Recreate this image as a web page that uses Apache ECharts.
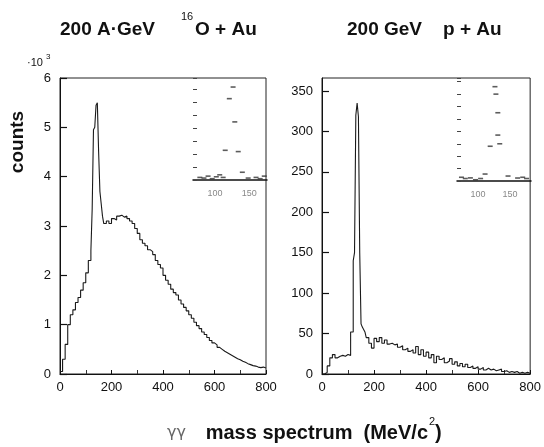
<!DOCTYPE html>
<html>
<head>
<meta charset="utf-8">
<script src="https://cdn.jsdelivr.net/npm/echarts@6/dist/echarts.min.js"></script>
<style>html,body{margin:0;padding:0;background:#fff}#c{width:544px;height:447px}</style>
</head>
<body>
<div id="c"></div>
<script>
// Bin lower edges (MeV/c^2); last bin ends at 800
const binEdges = [0,10,20,30,40,50,60,70,80,90,100,110,
  120,125,130,135,140,145,150,155,160,165,
  170,180,190,200,210,220,230,240,250,260,270,280,290,300,310,320,330,340,350,360,370,380,390,
  400,410,420,430,440,450,460,470,480,490,500,510,520,530,540,550,560,570,580,590,600,
  610,620,630,640,650,660,670,680,690,700,710,720,730,740,750,760,770,780,790];
const binEnd = 800;
// 200 A GeV 16O + Au, counts in units of 10^3
const countsOAu = [0.05,0.3,0.6,1.0,1.2,1.3,1.45,1.55,1.7,1.85,2.05,2.3,
  2.5,3.35,4.95,5.0,5.45,5.5,4.5,3.7,3.45,3.2,
  3.05,3.1,3.05,3.15,3.12,3.2,3.22,3.18,3.2,3.15,3.1,3.05,2.95,2.85,2.72,2.65,2.6,2.52,2.48,2.42,2.3,2.22,2.15,
  2.0,1.9,1.82,1.72,1.65,1.6,1.5,1.42,1.35,1.28,1.2,1.13,1.05,0.98,0.92,0.85,0.8,0.74,0.68,0.63,0.59,
  0.54,0.5,0.46,0.43,0.4,0.37,0.34,0.31,0.29,0.26,0.24,0.21,0.19,0.17,0.16,0.14,0.13,0.14,0.12];
// 200 GeV p + Au, counts
const countsPAu = [0,2,10,20,24,20,22,23,22,24,23,52,
  140,150,320,335,318,150,62,58,55,52,
  45,38,32,44,40,45,38,42,37,38,36,37,33,35,30,32,28,30,26,34,24,30,22,
  27,20,24,14,22,18,20,14,16,19,12,15,10,13,9,12,8,10,7,9,6,
  8,5,7,5,6,4,5,6,3,4,2,3,2,3,1,2,1,2,1];
// Insets (peak region, arbitrary units)
const insetOAuMass = [107,115,121,126.5,129,134,140,148.5,78,84,90,96,102,112,160,166,172];
const insetOAuVal  = [0.4,2.3,6.3,7.2,4.5,2.2,0.6,0.15,0.2,0.15,0.3,0.1,0.25,0.2,0.2,0.1,0.3];
const insetPAuMass = [111,119,126.5,128,131,131,134,147,162,74,80,88,96,104,170,176];
const insetPAuVal  = [0.56,2.8,7.6,7.0,5.5,3.7,3.0,0.4,0.24,0.3,0.2,0.25,0.1,0.2,0.3,0.2];
const insetTickLabels = [100,150];

function stepPoints(edges, vals, end){
  const pts=[];
  for(let i=0;i<vals.length;i++){
    const lo=edges[i], hi=(i+1<edges.length)?edges[i+1]:end;
    pts.push([lo,vals[i]]); pts.push([hi,vals[i]]);
  }
  return pts;
}
const FF='Liberation Sans';
const lab={color:'#111',fontFamily:FF,fontSize:13};
const chart=echarts.init(document.getElementById('c'),null,{renderer:'canvas'});
function mainX(idx){
  return {type:'value',gridIndex:idx,min:0,max:800,interval:200,
    axisLine:{show:true,lineStyle:{color:'#111',width:1.2}},
    axisTick:{show:true,inside:true,length:4,lineStyle:{color:'#111'}},
    minorTick:{show:true,splitNumber:2,length:4,lineStyle:{color:'#333'}},
    axisLabel:Object.assign({margin:7},lab),splitLine:{show:false}};
}
function insetX(idx,mn,mx){
  return {type:'value',gridIndex:idx,min:mn,max:mx,
    axisLine:{show:true,lineStyle:{color:'#111',width:1.5}},
    axisTick:{show:false},
    axisLabel:{customValues:insetTickLabels,color:'#888',fontFamily:FF,fontSize:9,margin:9},splitLine:{show:false}};
}
function insetY(idx,mx){
  return {type:'value',gridIndex:idx,min:0,max:mx,interval:1,
    axisLine:{show:false},
    axisTick:{show:true,inside:true,length:4,lineStyle:{color:'#444'}},
    axisLabel:{show:false},splitLine:{show:false}};
}
chart.setOption({
  animation:false,
  grid:[
    {left:60,top:78,width:206,height:296,show:true,borderColor:'#222',borderWidth:1},
    {left:322,top:78,width:209,height:296,show:true,borderColor:'#222',borderWidth:1},
    {left:193,top:78,width:74,height:102,show:false},
    {left:457,top:78,width:74,height:103,show:false}
  ],
  xAxis:[ mainX(0), mainX(1), insetX(2,68,176), insetX(3,67,183) ],
  yAxis:[
    {type:'value',gridIndex:0,min:0,max:6,interval:1,
      axisLine:{show:true,lineStyle:{color:'#111',width:1}},
      axisTick:{show:true,inside:true,length:7,lineStyle:{color:'#111',width:1.2}},
      axisLabel:Object.assign({margin:9},lab),splitLine:{show:false}},
    {type:'value',gridIndex:1,min:0,max:366,interval:50,
      axisLine:{show:true,lineStyle:{color:'#111',width:1}},
      axisTick:{show:true,inside:true,length:7,lineStyle:{color:'#111',width:1.2}},
      axisLabel:Object.assign({margin:9,showMaxLabel:false},lab),splitLine:{show:false}},
    insetY(2,7.9), insetY(3,8.3)
  ],
  series:[
    {type:'line',xAxisIndex:0,yAxisIndex:0,data:stepPoints(binEdges,countsOAu,binEnd),
      showSymbol:false,lineStyle:{color:'#1a1a1a',width:1.1}},
    {type:'line',xAxisIndex:1,yAxisIndex:1,data:stepPoints(binEdges,countsPAu,binEnd),
      showSymbol:false,lineStyle:{color:'#1a1a1a',width:1.1}},
    {type:'scatter',xAxisIndex:2,yAxisIndex:2,symbol:'rect',symbolSize:[5,1.6],
      itemStyle:{color:'#333'},data:insetOAuMass.map((m,i)=>[m,insetOAuVal[i]])},
    {type:'scatter',xAxisIndex:3,yAxisIndex:3,symbol:'rect',symbolSize:[5,1.6],
      itemStyle:{color:'#333'},data:insetPAuMass.map((m,i)=>[m,insetPAuVal[i]])}
  ],
  graphic:[
    {type:'text',left:60,top:20,style:{text:'200 A·GeV',font:'bold 19px "Liberation Sans"',fill:'#111'}},
    {type:'text',left:181,top:11,style:{text:'16',font:'11px "Liberation Sans"',fill:'#111'}},
    {type:'text',left:195,top:20,style:{text:'O + Au',font:'bold 19px "Liberation Sans"',fill:'#111'}},
    {type:'text',left:347,top:20,style:{text:'200 GeV',font:'bold 19px "Liberation Sans"',fill:'#111'}},
    {type:'text',left:443,top:20,style:{text:'p + Au',font:'bold 19px "Liberation Sans"',fill:'#111'}},
    {type:'text',left:27,top:57,style:{text:'·10',font:'11px "Liberation Sans"',fill:'#111'}},
    {type:'text',left:46,top:53,style:{text:'3',font:'8px "Liberation Sans"',fill:'#111'}},
    {type:'text',x:18,y:142,rotation:Math.PI/2,style:{text:'counts',font:'bold 19px "Liberation Sans"',fill:'#111',align:'center',verticalAlign:'middle'}},
    {type:'text',x:186,y:433,style:{text:'γγ',font:'16px "DejaVu Sans"',fill:'#666',align:'right',verticalAlign:'middle'}},
    {type:'text',x:428,y:433,style:{text:'mass spectrum  (MeV/c',font:'bold 20px "Liberation Sans"',fill:'#111',align:'right',verticalAlign:'middle'}},
    {type:'text',x:429,y:422,style:{text:'2',font:'11px "Liberation Sans"',fill:'#111',align:'left',verticalAlign:'middle'}},
    {type:'text',x:435,y:433,style:{text:')',font:'bold 20px "Liberation Sans"',fill:'#111',align:'left',verticalAlign:'middle'}}
  ]
});
</script>
</body>
</html>
